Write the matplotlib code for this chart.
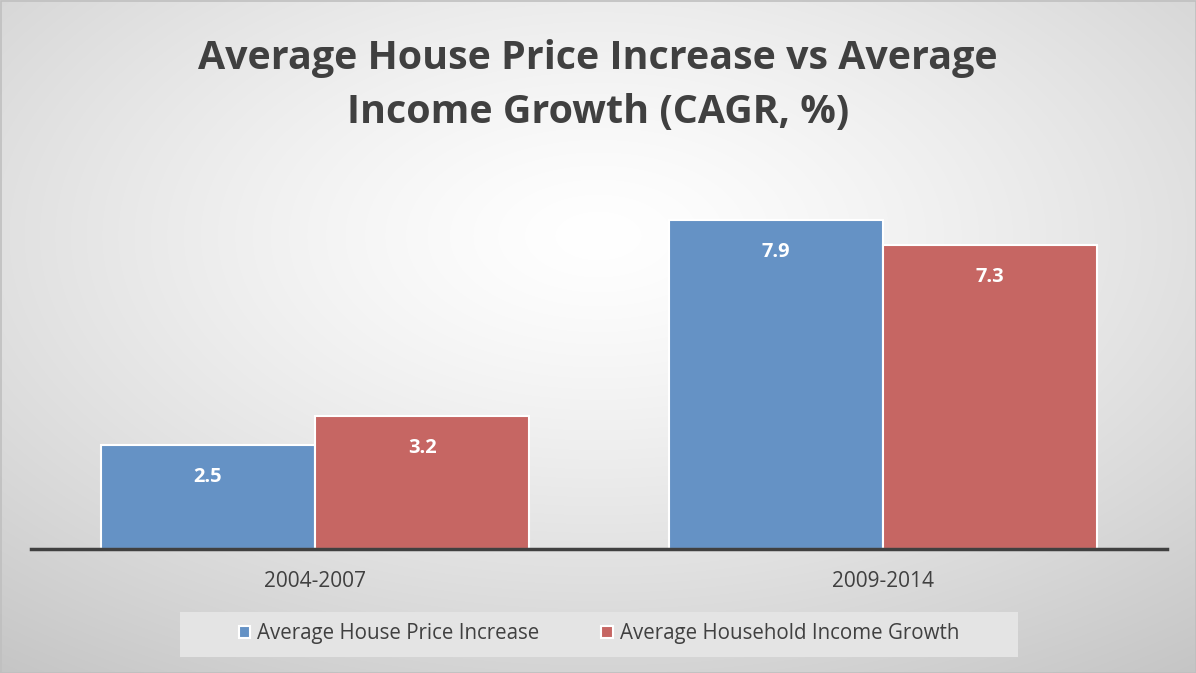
import matplotlib

matplotlib.use("Agg")
import matplotlib.pyplot as plt
import numpy as np

periods = ["2004-2007", "2009-2014"]
house_price = [2.5, 7.9]
household_income = [3.2, 7.3]
series_names = ["Average House Price Increase", "Average Household Income Growth"]

BLUE = "#6592c5"
RED = "#c66663"
TXT = "#404040"

plt.rcParams["font.family"] = ["Open Sans", "DejaVu Sans"]

W, H = 1196, 673
fig = plt.figure(figsize=(W / 100, H / 100), dpi=100)

# radial grey background
yy, xx = np.mgrid[0:H, 0:W]
r = np.hypot((xx - W / 2) / (W / 2), (yy - H * 0.35) / (H / 2))
shade = np.clip(1.0 - 0.12 * r ** 1.3, 0, 1)
bg = fig.add_axes([0, 0, 1, 1], zorder=-1)
bg.imshow(np.dstack([shade] * 3), aspect="auto", extent=[0, 1, 0, 1])
bg.axis("off")
fig.patches.append(plt.Rectangle((0.5 / W, 0.5 / H), 1 - 1 / W, 1 - 1 / H,
                                 transform=fig.transFigure, fill=False,
                                 edgecolor="#bfbfbf", lw=1.2))
# legend backdrop
fig.patches.append(plt.Rectangle((180 / W, 1 - 657 / H), 838 / W, 45 / H,
                                 transform=fig.transFigure, facecolor="#e4e4e4",
                                 edgecolor="none", zorder=-0.5))

ax = fig.add_axes([31 / W, 1 - 549 / H, 1136 / W, 375 / H])
ax.patch.set_alpha(0)
x = np.arange(len(periods))
w = 0.377
b1 = ax.bar(x - w / 2, house_price, w, color=BLUE, edgecolor="white", lw=1.5,
            label=series_names[0])
b2 = ax.bar(x + w / 2, household_income, w, color=RED, edgecolor="white", lw=1.5,
            label=series_names[1])
for bars in (b1, b2):
    for b in bars:
        ax.annotate(f"{b.get_height():.1f}", (b.get_x() + b.get_width() / 2, b.get_height()),
                    xytext=(0, -23), textcoords="offset points", ha="center", va="center",
                    color="white", fontsize=14.5, fontweight="bold")

ax.set_xlim(-0.5, 1.5)
ax.set_ylim(0, 9)
ax.set_xticks(x)
ax.set_xticklabels(periods, fontsize=15, color=TXT)
ax.tick_params(axis="x", length=0, pad=16)
ax.set_yticks([])
for s in ("top", "right", "left"):
    ax.spines[s].set_visible(False)
ax.spines["bottom"].set_color(TXT)
ax.spines["bottom"].set_linewidth(2.5)

fig.text(0.5, 1 - 86 / H, "Average House Price Increase vs Average\nIncome Growth (CAGR, %)",
         ha="center", va="center", fontsize=28.4, fontweight="bold", color=TXT, linespacing=1.5)

leg = ax.legend(loc="center", bbox_to_anchor=(599 / W, 1 - 634 / H), bbox_transform=fig.transFigure,
                ncol=2, frameon=False, fontsize=14.8, handlelength=0.55, handleheight=0.55,
                handletextpad=0.35, columnspacing=3.0, labelcolor=TXT)
for p in leg.get_patches():
    p.set_edgecolor("white")

fig.savefig("out.png", dpi=100)
